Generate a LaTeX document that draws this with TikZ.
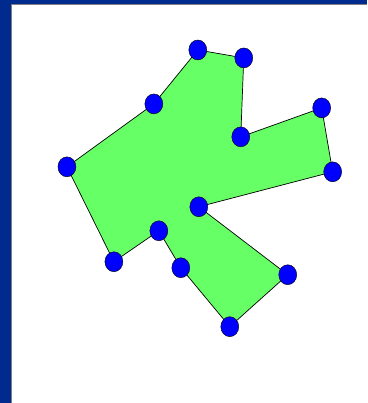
\documentclass[tikz,border=0pt]{standalone}
\usepackage{tikz}
\usetikzlibrary{shapes.geometric}
\definecolor{slideblue}{HTML}{002A8E}
\definecolor{shapegreen}{HTML}{66FF66}
\definecolor{dotblue}{HTML}{0000FF}

\begin{document}
\begin{tikzpicture}[x=1pt, y=-1pt,
    vertex/.style={ellipse, draw=black, fill=dotblue, minimum width=18pt, minimum height=20pt, inner sep=0pt}]
    % slide background
    \fill[slideblue] (0,0) rectangle (367,403);
    \fill[white] (11.5,4.5) rectangle (367,403);
    \draw[gray, line width=0.8pt] (11.5,403) -- (11.5,4.5) -- (367,4.5);
    \useasboundingbox (0,0) rectangle (367,403);
    % corners of the shape
    \foreach \n/\x/\y in {1/198/50, 2/244/58, 3/241/137, 4/322/108, 5/333/172,
      6/199/207, 7/288/275, 8/230/327, 9/181/268, 10/159/231, 11/114/262,
      12/67/167, 13/154/104}{
      \coordinate (p\n) at (\x,\y);
    }
    \filldraw[fill=shapegreen, draw=black, line width=0.7pt]
      (p1) -- (p2) -- (p3) -- (p4) -- (p5) -- (p6) -- (p7) -- (p8)
      -- (p9) -- (p10) -- (p11) -- (p12) -- (p13) -- cycle;
    \foreach \n in {1,...,13}{
      \node[vertex] (v\n) at (p\n) {};
    }
  \end{tikzpicture}
\end{document}
